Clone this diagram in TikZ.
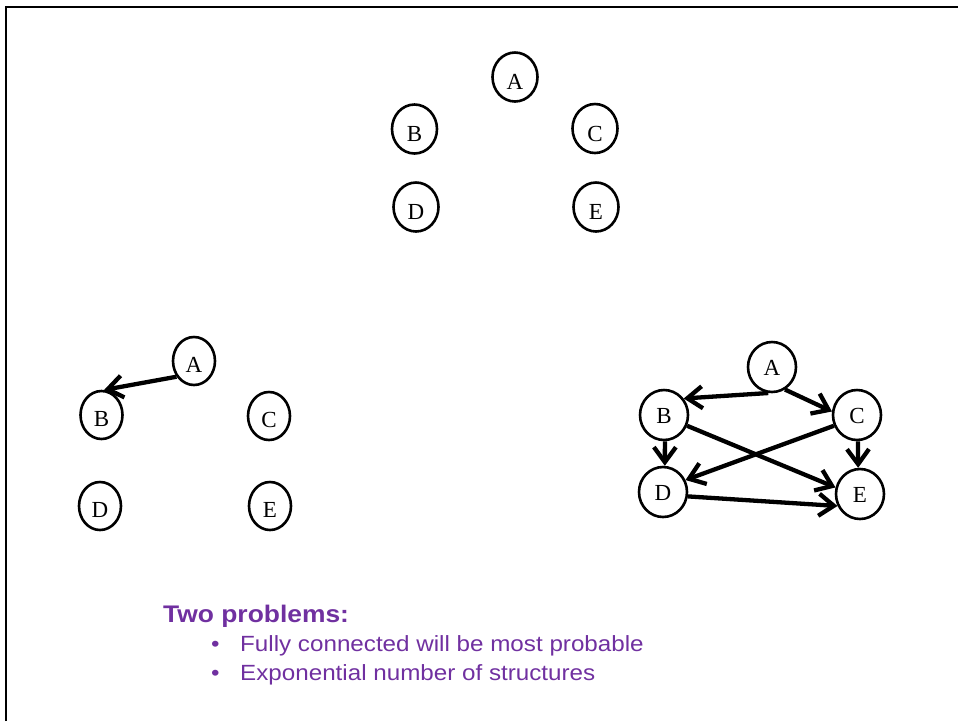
\documentclass[tikz,border=0pt]{standalone}
\usepackage{fontspec}
\setmainfont{Liberation Serif}
\newfontfamily\purpfont[FakeStretch=1.1]{Liberation Sans}
\usetikzlibrary{shapes.geometric,arrows.meta}
\definecolor{slidepurple}{HTML}{7030A0}
\begin{document}
\begin{tikzpicture}[x=1pt,y=-1pt,
  vnode/.style={ellipse,draw,line width=2.6pt,inner sep=0pt,font=\fontsize{23}{23}\selectfont,text depth=0pt},
  topn/.style={vnode,minimum width=45pt,minimum height=49pt,text height=25pt},
  leftn/.style={vnode,minimum width=42pt,minimum height=48pt,text height=22pt},
  rightn/.style={vnode,minimum width=48pt,minimum height=50pt,text height=16pt},
  edge/.style={line width=4.3pt,-{Straight Barb[length=15pt,width=22pt]}},
  ptext/.style={anchor=base west,inner sep=0pt,text=slidepurple}]
\useasboundingbox (0,0) rectangle (958,721);
% frame (clipped)
\draw[line width=2.5pt] (6,721) -- (6,7) -- (958,7);
% top graph
\node[topn] (tA) at (515,77) {A};
\node[topn] (tB) at (414.5,129) {B};
\node[topn] (tC) at (595,128.5) {C};
\node[topn] (tD) at (416,207) {D};
\node[topn] (tE) at (596,207) {E};
% bottom-left graph
\node[leftn] (lA) at (194,361) {A};
\node[leftn] (lB) at (101.5,415) {B};
\node[leftn] (lC) at (269,416) {C};
\node[leftn] (lD) at (100,506) {D};
\node[leftn] (lE) at (270,506) {E};
\draw[edge] (lA.222) -- (lB.84);
% bottom-right graph
\node[rightn] (rA) at (772,367) {A};
\node[rightn] (rB) at (664,415) {B};
\node[rightn] (rC) at (857,415) {C};
\node[rightn] (rD) at (663,492) {D};
\node[rightn] (rE) at (860,494) {E};
\draw[edge] (rA.262) -- (rB.40);
\draw[edge] (rA.300) -- (rC.172);
\draw[edge] (rB.272) -- (rD.86);
\draw[edge] (rB.335) -- (rE.165);
\draw[edge] (rC.205) -- (rD.28);
\draw[edge] (rC.272) -- (rE.94);
\draw[edge] (rD.350) -- (rE.208);
% text
\node[ptext,font=\purpfont\bfseries\fontsize{24}{24}\selectfont] (title) at (163,622) {Two problems:};
\node[ptext,font=\purpfont\fontsize{22}{22}\selectfont] (b1) at (211,651) {\textbullet};
\node[ptext,font=\purpfont\fontsize{22}{22}\selectfont] (t1) at (240,651) {Fully connected will be most probable};
\node[ptext,font=\purpfont\fontsize{22}{22}\selectfont] (b2) at (211,680) {\textbullet};
\node[ptext,font=\purpfont\fontsize{22}{22}\selectfont] (t2) at (240,680) {Exponential number of structures};
\end{tikzpicture}
\end{document}
